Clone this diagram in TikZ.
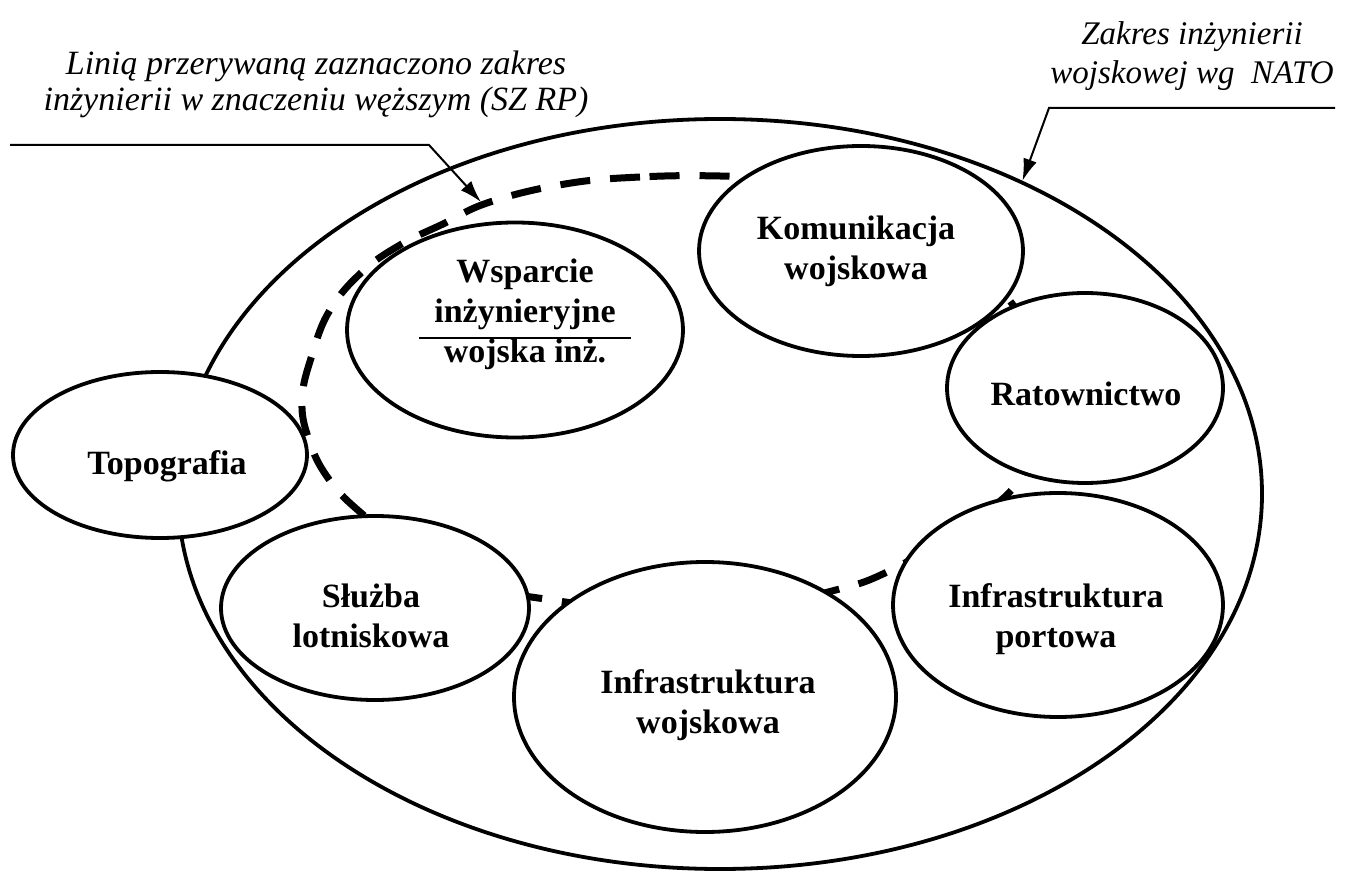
\documentclass[tikz,border=0pt]{standalone}
\usepackage{fontspec}
\setmainfont{Liberation Serif}
\usetikzlibrary{shapes.geometric,arrows.meta}
\begin{document}
\begin{tikzpicture}[x=1pt,y=-1pt,
  blob/.style={draw, ellipse, fill=white, line width=3.8pt, inner sep=0pt},
  lbl/.style={font=\bfseries\fontsize{34}{40}\selectfont, align=center, inner sep=0pt},
  note/.style={font=\itshape\fontsize{34}{36}\selectfont, align=center, inner sep=0pt},
  pointer/.style={line width=2pt, -{Latex[length=22pt,width=14pt]}},
  narrowscope/.style={dash pattern=on 30pt off 20pt, line width=7pt},
]
\useasboundingbox (0,0) rectangle (1347,874);

% outer scope: military engineering according to NATO
\node[draw, ellipse, line width=3.8pt, minimum width=1084pt, minimum height=750pt] (nato) at (720,494) {};

% dashed loop: engineering in the narrower sense
\draw[narrowscope] plot[smooth cycle, tension=0.7] coordinates {
  (720,176) (640,177) (565,184) (490,202) (443,224) (400,245) (362,272)
  (330,310) (312,355) (302,400) (309,440) (328,478) (360,512)
  (420,558) (480,586) (552,600) (650,611) (760,606) (832,591) (885,573)
  (950,535) (1018,482) (1035,415) (1030,345) (1007,297)
  (950,240) (870,198) (790,180)};

% component areas
\node[blob, minimum width=294pt, minimum height=166pt] (topo) at (160,455) {};
\node[blob, minimum width=336pt, minimum height=215pt] (wsp)  at (515,330) {};
\node[blob, minimum width=324pt, minimum height=210pt] (kom)  at (861,251) {};
\node[blob, minimum width=276pt, minimum height=190pt] (rat)  at (1085,388) {};
\node[blob, minimum width=330pt, minimum height=224pt] (port) at (1058,605) {};
\node[blob, minimum width=382pt, minimum height=270pt] (woj)  at (705,697) {};
\node[blob, minimum width=308pt, minimum height=184pt] (slu)  at (375,608) {};

% labels
\node[lbl] (topoT) at (167,466) {Topografia};
\node[lbl] (wspT)  at (525,314) {Wsparcie\\inżynieryjne\\wojska inż.};
\draw[line width=2pt] (wspT.center) ++(-106,24) -- ++(212,0);
\node[lbl] (komT)  at (856,251) {Komunikacja\\wojskowa};
\node[lbl] (ratT)  at (1086,394) {Ratownictwo};
\node[lbl] (portT) at (1056,619) {Infrastruktura\\portowa};
\node[lbl] (wojT)  at (708,705) {Infrastruktura\\wojskowa};
\node[lbl] (sluT)  at (371,616) {Służba\\lotniskowa};

% annotations
\node[note] (noteL) at (316,84) {Linią przerywaną zaznaczono zakres\\inżynierii w znaczeniu węższym (SZ RP)};
\node[note, font=\itshape\fontsize{33}{39}\selectfont] (noteR) at (1192,56) {Zakres inżynierii\\wojskowej wg\ \ NATO};

\coordinate (lFree) at (10,145);
\coordinate (lBend) at (429,145);
\coordinate (lTip)  at (481,202);
\draw[pointer] (lFree) -- (lBend) -- (lTip);

\coordinate (rFree) at (1335,108);
\coordinate (rBend) at (1049,108);
\draw[pointer] (rFree) -- (rBend) -- (nato.46.9);
\end{tikzpicture}
\end{document}
